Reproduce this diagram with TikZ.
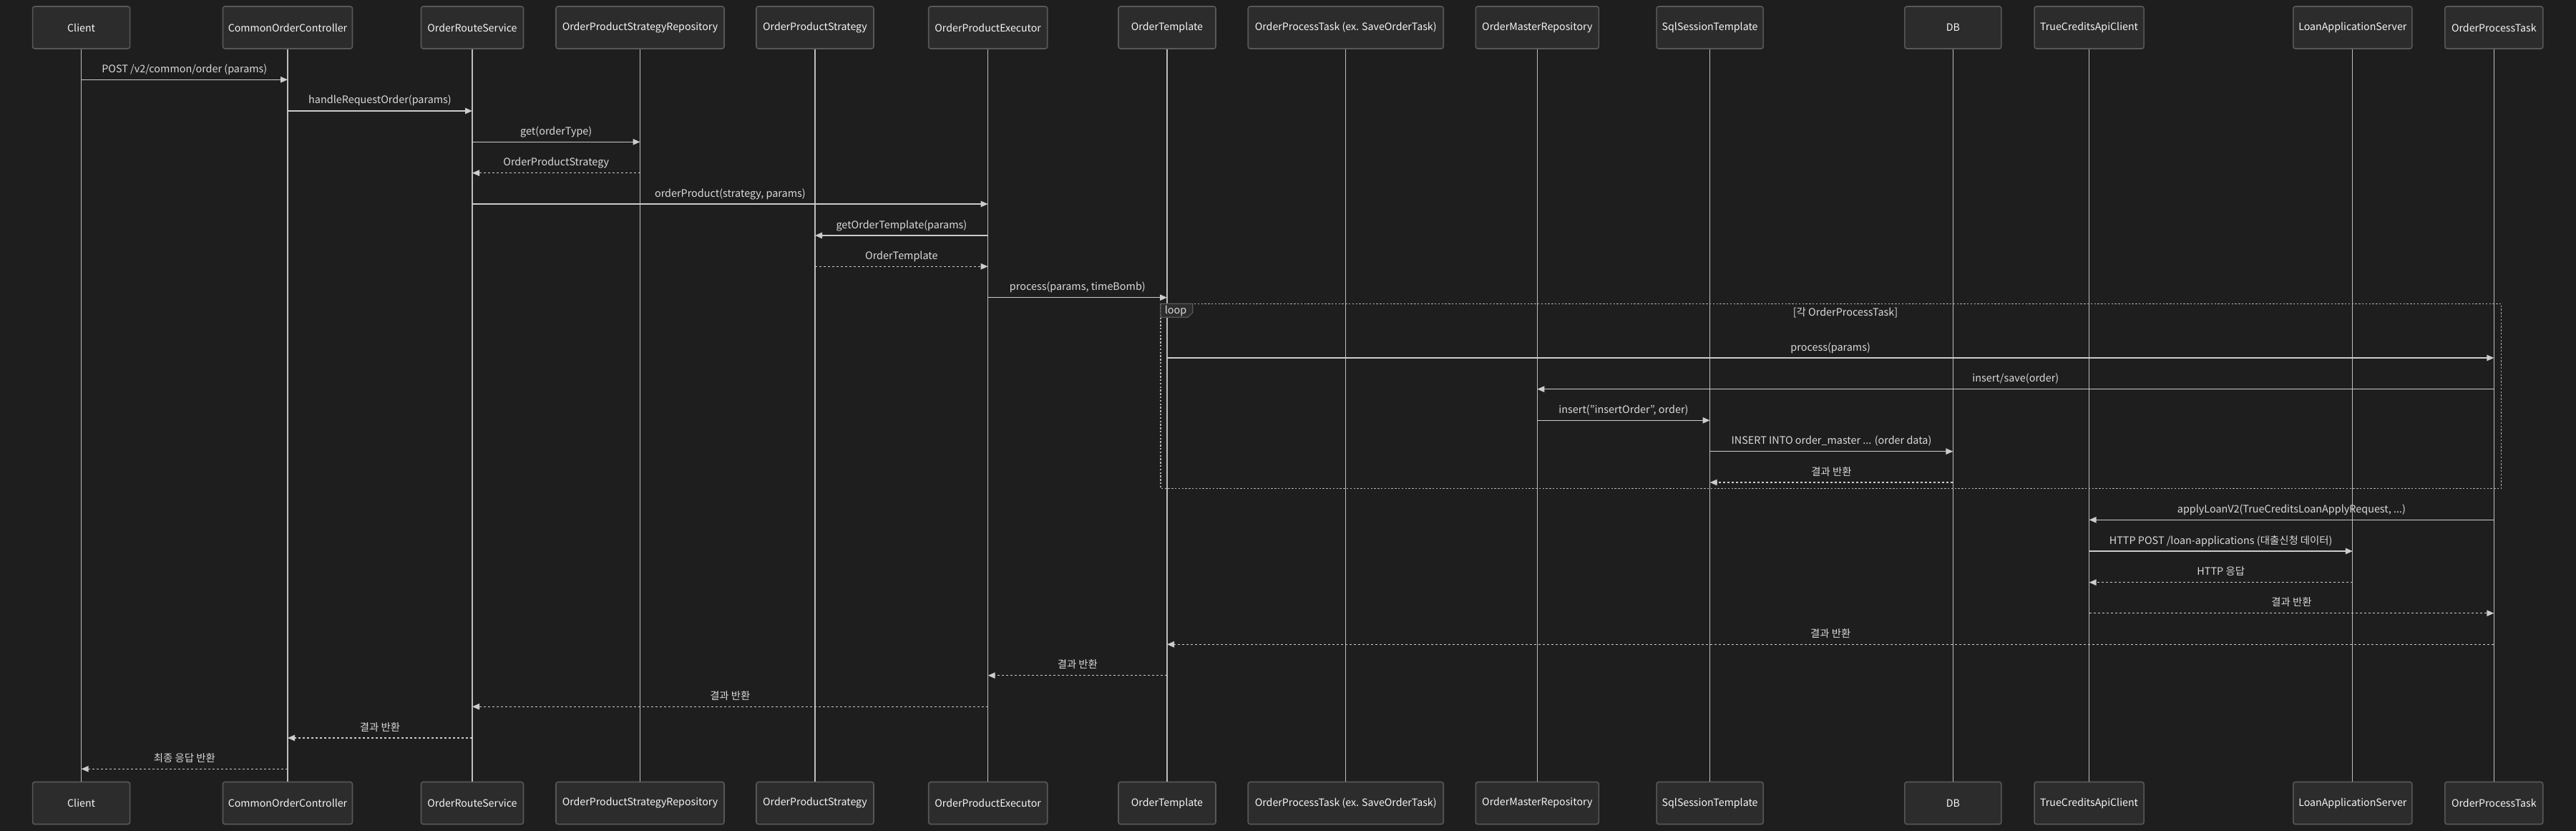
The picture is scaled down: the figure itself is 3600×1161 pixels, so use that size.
\documentclass[tikz,border=0pt]{standalone}
\usepackage{fontspec}
\setmainfont{Noto Sans CJK KR}
\usetikzlibrary{arrows.meta}

\definecolor{bgdark}{RGB}{30,30,30}
\definecolor{actorfill}{RGB}{44,44,44}
\definecolor{actorline}{RGB}{88,88,88}
\definecolor{actortext}{RGB}{245,245,245}
\definecolor{lifeline}{RGB}{190,190,190}
\definecolor{msgline}{RGB}{204,204,204}
\definecolor{msgtext}{RGB}{218,218,218}
\definecolor{loopline}{RGB}{180,180,180}

\tikzset{
  actor/.style={draw=actorline, fill=actorfill, rounded corners=1.5pt, line width=0.8pt,
    minimum height=29.5pt, inner sep=0pt, text=actortext, font=\fontsize{7.1pt}{9pt}\selectfont},
  life/.style={draw=lifeline, line width=0.6pt},
  msg/.style={draw=msgline, line width=0.7pt, -{Triangle[length=5pt,width=4.2pt]}},
  ret/.style={msg, dash pattern=on 1.5pt off 1.5pt},
  plaintext/.style={inner sep=0pt, text=msgtext, font=\fontsize{7.2pt}{9pt}\selectfont},
  lbl/.style={plaintext, anchor=base, yshift=5pt},
  loopbox/.style={draw=loopline, line width=0.7pt, dash pattern=on 1.2pt off 1.2pt},
}

% message between two lifelines: [style]{label name}{from}{to}{y}{text}
\newcommand{\seqmsg}[6][msg]{\draw[#1] (#3 |- 0,#5) -- node[lbl] (#2) {#6} (#4 |- 0,#5);}

\begin{document}
\begin{tikzpicture}[x=0.5pt,y=0.5pt,yscale=-1,xscale=1]
\path[use as bounding box, fill=bgdark] (0,0) rectangle (3600,1161);

%Shape: Actors and lifelines
\foreach \nm/\cx/\w/\txt in {client/113.6/136/{Client},
    coc/402/181/{CommonOrderController},
    ors/660/143/{OrderRouteService},
    opsr/894.5/235/{OrderProductStrategyRepository},
    ops/1139/164/{OrderProductStrategy},
    ope/1380.7/166/{OrderProductExecutor},
    ot/1631/136/{OrderTemplate},
    optx/1880.7/273/{OrderProcessTask (ex. SaveOrderTask)},
    omr/2148.3/172/{OrderMasterRepository},
    sst/2389.6/149/{SqlSessionTemplate},
    db/2729.4/135/{DB},
    tcac/2919.6/153/{TrueCreditsApiClient},
    las/3287.8/166/{LoanApplicationServer},
    opt/3485.3/137/{OrderProcessTask}}{
  \node[actor, minimum width=\w*0.5pt] (\nm) at (\cx,38.5) {\txt};
  \node[actor, minimum width=\w*0.5pt] (\nm b) at (\cx,1122) {\txt};
  \draw[life] (\nm) -- (\nm b);
}

%Straight Lines: messages
\seqmsg{m1}{client}{coc}{111.3}{POST /v2/common/order (params)}
\seqmsg{m2}{coc}{ors}{155}{handleRequestOrder(params)}
\seqmsg{m3}{ors}{opsr}{198.3}{get(orderType)}
\seqmsg[ret]{m4}{opsr}{ors}{241.7}{OrderProductStrategy}
\seqmsg{m5}{ors}{ope}{285}{orderProduct(strategy, params)}
\seqmsg{m6}{ope}{ops}{329}{getOrderTemplate(params)}
\seqmsg[ret]{m7}{ops}{ope}{372.3}{OrderTemplate}
\seqmsg{m8}{ope}{ot}{415.7}{process(params, timeBomb)}

%Shape: Loop frame
\draw[loopbox] (1621.9,424.3) rectangle (3495.4,682.7);
\draw[draw=actorline, fill=actorfill, line width=0.6pt] (1621.9,424.3) -- (1666.7,424.3) -- (1666.7,436.7) -- (1660,443.3) -- (1621.9,443.3) -- cycle;
% Text Node
\node[plaintext] (looptag) at (1643,434) {loop};
% Text Node
\node[plaintext] (loopcond) at (2579,436.7) {[각 OrderProcessTask]};

\seqmsg{m9}{ot}{opt}{500}{process(params)}
\seqmsg{m10}{opt}{omr}{543.7}{insert/save(order)}
\seqmsg{m11}{omr}{sst}{587.3}{insert("insertOrder", order)}
\seqmsg{m12}{sst}{db}{630.7}{INSERT INTO order\_master ... (order data)}
\seqmsg[ret]{m13}{db}{sst}{674}{결과 반환}

\seqmsg{m14}{opt}{tcac}{726.3}{applyLoanV2(TrueCreditsLoanApplyRequest, ...)}
\seqmsg{m15}{tcac}{las}{770}{HTTP POST /loan-applications (대출신청 데이터)}
\seqmsg[ret]{m16}{las}{tcac}{813.7}{HTTP 응답}
\seqmsg[ret]{m17}{tcac}{opt}{856.7}{결과 반환}
\seqmsg[ret]{m18}{opt}{ot}{900.3}{결과 반환}
\seqmsg[ret]{m19}{ot}{ope}{943.7}{결과 반환}
\seqmsg[ret]{m20}{ope}{ors}{987.3}{결과 반환}
\seqmsg[ret]{m21}{ors}{coc}{1031}{결과 반환}
\seqmsg[ret]{m22}{coc}{client}{1074.3}{최종 응답 반환}

\end{tikzpicture}
\end{document}
